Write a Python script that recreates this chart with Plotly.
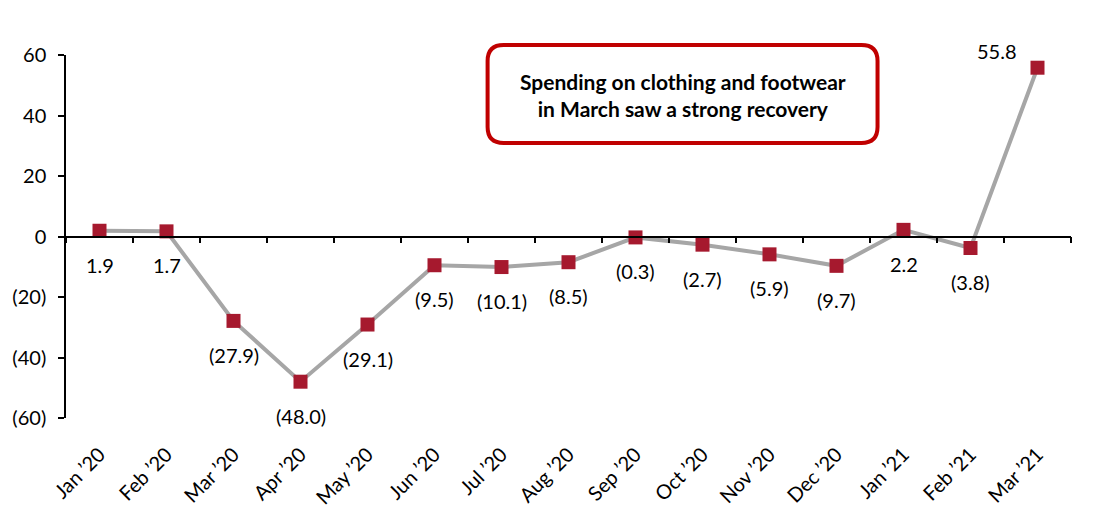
import plotly.graph_objects as go

months = ["Jan ’20", "Feb ’20", "Mar ’20", "Apr ’20", "May ’20", "Jun ’20", "Jul ’20",
          "Aug ’20", "Sep ’20", "Oct ’20", "Nov ’20", "Dec ’20", "Jan ’21", "Feb ’21", "Mar ’21"]
values = [1.9, 1.7, -27.9, -48.0, -29.1, -9.5, -10.1, -8.5, -0.3, -2.7, -5.9, -9.7, 2.2, -3.8, 55.8]
y_ticks = [60, 40, 20, 0, -20, -40, -60]
y_tick_text = ["60", "40", "20", "0", "(20)", "(40)", "(60)"]
note_lines = ["Spending on clothing and footwear", "in March saw a strong recovery"]

FONT = "Lato, Calibri, Carlito, sans-serif"
RED = "#A6192E"


def fmt(v):
    return f"({abs(v):.1f})" if v < 0 else f"{v:.1f}"


fig = go.Figure()
fig.add_trace(go.Scatter(
    x=months, y=values, mode="lines+markers",
    line=dict(color="#A6A6A6", width=4),
    marker=dict(symbol="square", size=14, color=RED),
    hoverinfo="skip", showlegend=False,
))
# invisible trace to host the zero-line axis
fig.add_trace(go.Scatter(
    x=months, y=[0] * len(months), xaxis="x2", mode="markers",
    marker=dict(opacity=0), hoverinfo="skip", showlegend=False,
))

annotations = []
for i, (m, v) in enumerate(zip(months, values)):
    if i == len(months) - 1:
        annotations.append(dict(x=m, y=v, text=fmt(v), showarrow=False,
                                xshift=-41, yshift=17,
                                font=dict(family=FONT, size=20, color="black")))
    else:
        annotations.append(dict(x=m, y=v, text=fmt(v), showarrow=False,
                                yshift=-34,
                                font=dict(family=FONT, size=20, color="black")))

annotations.append(dict(
    xref="paper", yref="paper", x=0.6135, y=0.8898, xanchor="center", yanchor="middle",
    text="<br>".join("<b>" + s + "</b>" for s in note_lines),
    showarrow=False, align="center",
    font=dict(family=FONT, size=21, color="black"),
))

# rounded rectangle in paper coords
x0, x1, y0, y1 = 0.4195, 0.8075, 0.7576, 1.0275
rx, ry = 0.016, 0.044
path = (f"M {x0+rx},{y1} L {x1-rx},{y1} Q {x1},{y1} {x1},{y1-ry} "
        f"L {x1},{y0+ry} Q {x1},{y0} {x1-rx},{y0} "
        f"L {x0+rx},{y0} Q {x0},{y0} {x0},{y0+ry} "
        f"L {x0},{y1-ry} Q {x0},{y1} {x0+rx},{y1} Z")

fig.update_layout(
    width=1094, height=517,
    margin=dict(l=66, r=23, t=55, b=99),
    paper_bgcolor="white", plot_bgcolor="white",
    font=dict(family=FONT, size=19, color="black"),
    annotations=annotations,
    shapes=[dict(type="path", path=path, xref="paper", yref="paper",
                 line=dict(color="#C00000", width=4), fillcolor="white", layer="below")],
    xaxis=dict(type="category", showline=False, showgrid=False, zeroline=False,
               ticks="", tickangle=-45, tickfont=dict(family=FONT, size=20),
               ticklabelstandoff=20, range=[-0.5, 14.5], automargin=False),
    xaxis2=dict(type="category", overlaying="x", anchor="free", position=0.5,
                side="bottom", showline=True, linecolor="black", linewidth=1.5,
                ticks="outside", ticklen=6, tickwidth=1.5, tickcolor="black",
                tickson="boundaries", showticklabels=False, showgrid=False,
                zeroline=False, range=[-0.5, 14.5], automargin=False),
    yaxis=dict(range=[-60, 60], tickvals=y_ticks, ticktext=y_tick_text,
               showline=True, linecolor="black", linewidth=1.5,
               ticks="outside", ticklen=6, tickwidth=1.5, tickcolor="black",
               showgrid=False, zeroline=False, tickfont=dict(family=FONT, size=20),
               ticklabelstandoff=8, automargin=False),
)

fig.write_html("out.html")
